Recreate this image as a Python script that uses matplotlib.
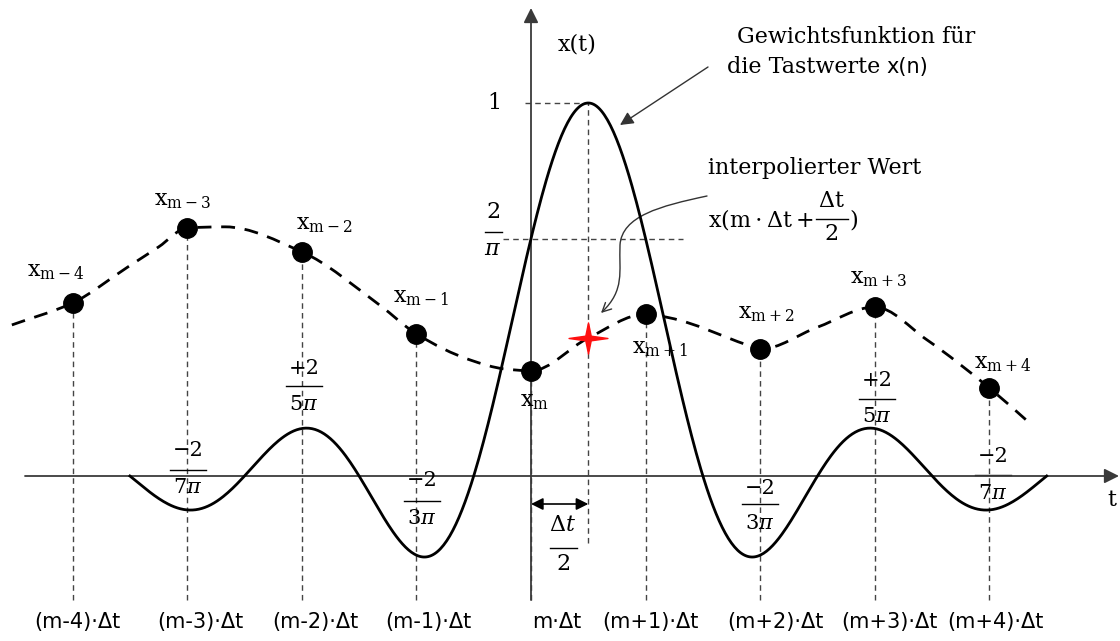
import numpy as np
import matplotlib
matplotlib.use('Agg')
import matplotlib.pyplot as plt
from matplotlib.path import Path
from matplotlib.patches import PathPatch, FancyArrowPatch

# ---------------- data ----------------
sample_n = [-4, -3, -2, -1, 0, 1, 2, 3, 4]
sample_names = ['m-4', 'm-3', 'm-2', 'm-1', 'm', 'm+1', 'm+2', 'm+3', 'm+4']
sample_values = [0.464, 0.665, 0.601, 0.381, 0.282, 0.434, 0.340, 0.453, 0.236]
tick_labels = ['(m-4)·Δt', '(m-3)·Δt', '(m-2)·Δt', '(m-1)·Δt', 'm·Δt',
               '(m+1)·Δt', '(m+2)·Δt', '(m+3)·Δt', '(m+4)·Δt']

# dashed interpolated signal (knots, incl. samples)
interp_t = [-4.53, -4.0, -3.52, -3.25, -3.0, -2.67, -2.0, -1.32, -1.0, -0.53, -0.23,
            0.0, 0.5, 1.0, 1.21, 1.89, 2.0, 2.5, 3.0, 3.455, 4.0, 4.34]
interp_v = [0.405, 0.464, 0.560, 0.614, 0.665, 0.668, 0.601, 0.458, 0.381, 0.311, 0.287,
            0.282, 0.370, 0.434, 0.424, 0.351, 0.340, 0.399, 0.453, 0.365, 0.236, 0.145]

# weighting function (sinc) centred between m and m+1
weight_center = 0.5
weight_start, weight_end = -3.5, 4.5
weight_label_n = [-3, -2, -1, 2, 3, 4]
weight_label_num = ['−2', '+2', '−2', '−2', '+2', '−2']
weight_label_den = ['7π', '5π', '3π', '3π', '5π', '7π']

interp_point_t = 0.5
interp_point_v = 0.370

# ---------------- layout helpers (pixel -> data) ----------------
PX0, DX, PY0, DY = 531.0, 114.6, 476.0, 373.0
def X(px):
    return (px - PX0) / DX
def Y(py):
    return (PY0 - py) / DY

plt.rcParams['mathtext.fontset'] = 'dejavuserif'
SERIF = 'DejaVu Serif'
SANS = 'DejaVu Sans'

fig = plt.figure(figsize=(11.2, 6.41), dpi=100)
ax = fig.add_axes([0, 0, 1, 1])
ax.set_xlim(X(0), X(1120))
ax.set_ylim(Y(641), Y(0))
ax.axis('off')
renderer = fig.canvas.get_renderer()

def right_edge(txt):
    bb = txt.get_window_extent(renderer)
    return ax.transData.inverted().transform((bb.x1, bb.y0))[0]

AXC = '#3a3a3a'
# horizontal axis
ax.annotate('', xy=(X(1119), 0), xytext=(X(25), 0),
            arrowprops=dict(arrowstyle='-|>', color=AXC, lw=1.3,
                            mutation_scale=22, shrinkA=0, shrinkB=0))
# vertical axis
ax.annotate('', xy=(0, Y(8)), xytext=(0, Y(600)),
            arrowprops=dict(arrowstyle='-|>', color=AXC, lw=1.3,
                            mutation_scale=22, shrinkA=0, shrinkB=0))
ax.text(X(1112), Y(500), 't', fontsize=16, family=SERIF, ha='center', va='center')
ax.text(X(577), Y(45), 'x(t)', fontsize=16, family=SERIF, ha='center', va='center')

# vertical dashed lines at samples
ax.vlines(sample_n, Y(600), sample_values, colors='#444444', lw=1.0,
          linestyles=(0, (4, 3)), zorder=1)
# vertical dashed at m+1/2
ax.vlines([weight_center], Y(543), 1.0, colors='#444444', lw=1.0,
          linestyles=(0, (4, 3)), zorder=1)
# horizontal dashed helper lines
ax.hlines([1.0], X(525), weight_center, colors='#444444', lw=1.0, linestyles=(0, (4, 3)))
ax.hlines([2 / np.pi], X(503), X(683), colors='#444444', lw=1.0, linestyles=(0, (4, 3)))
ax.text(X(494), 1.0, '1', fontsize=16, family=SERIF, ha='center', va='center')
ax.text(X(493), Y(212), '2', fontsize=16, family=SERIF, ha='center', va='center')
ax.plot([X(485), X(502)], [Y(232), Y(232)], color='black', lw=1.0)
ax.text(X(493), Y(249), r'$\pi$', fontsize=16, ha='center', va='center')

# weighting function
tt = np.linspace(weight_start, weight_end, 600)
ax.plot(tt, np.sinc(tt - weight_center), color='black', lw=2.0, zorder=3)

# dashed interpolated signal: monotone cubic Hermite knots -> Bezier path
T = np.asarray(interp_t, float)
V = np.asarray(interp_v, float)
h = np.diff(T)
d = np.diff(V) / h
m = np.zeros_like(V)
m[0], m[-1] = d[0], d[-1]
for k in range(1, len(V) - 1):
    if d[k - 1] * d[k] > 0:
        w1 = 2 * h[k] + h[k - 1]
        w2 = h[k] + 2 * h[k - 1]
        m[k] = (w1 + w2) / (w1 / d[k - 1] + w2 / d[k])
verts = [(T[0], V[0])]
codes = [Path.MOVETO]
for k in range(len(T) - 1):
    verts += [(T[k] + h[k] / 3, V[k] + m[k] * h[k] / 3),
              (T[k + 1] - h[k] / 3, V[k + 1] - m[k + 1] * h[k] / 3),
              (T[k + 1], V[k + 1])]
    codes += [Path.CURVE4] * 3
ax.add_patch(PathPatch(Path(verts, codes), fill=False, color='black', lw=2.0,
                       linestyle=(0, (5, 3.5)), zorder=3))

# sample dots
ax.plot(sample_n, sample_values, 'o', ms=14, color='black', zorder=5)

# sample labels
name_pos = [(56, 272), (183, 201), (324, 225), (421, 298), (535, 402),
            (660, 349), (766, 314), (879, 279), (1003, 364)]
for name, (px, py) in zip(sample_names, name_pos):
    ax.text(X(px), Y(py), r'$\mathrm{x}_{\mathrm{' + name + '}}$', fontsize=16,
            ha='center', va='center', zorder=6)

# weight-value fractions
frac_pos = [(188, 451, 470, 487), (304, 368, 386, 404), (422, 481, 501, 518),
            (760, 488, 504, 523), (877, 381, 399, 416), (993, 457, 475, 493)]
for num, den, (px, pn, pb, pd) in zip(weight_label_num, weight_label_den, frac_pos):
    ax.text(X(px), Y(pn), num, fontsize=15, family=SERIF, ha='center', va='center')
    ax.plot([X(px - 18), X(px + 18)], [Y(pb), Y(pb)], color='black', lw=1.0)
    ax.text(X(px), Y(pd), '$' + den.replace('π', r'\pi') + '$', fontsize=15,
            ha='center', va='center')

# interpolated point (red star)
star = Path([(1, 0), (0.14, 0.12), (0, 0.8), (-0.14, 0.12), (-1, 0),
             (-0.14, -0.12), (0, -0.8), (0.14, -0.12), (1, 0)],
            [Path.MOVETO] + [Path.LINETO] * 7 + [Path.CLOSEPOLY])
ax.plot([interp_point_t], [interp_point_v], marker=star, ms=28, color='#ff1010',
        mec='#ff1010', zorder=7)

# delta t / 2 arrow
ax.annotate('', xy=(weight_center, Y(504)), xytext=(0, Y(504)),
            arrowprops=dict(arrowstyle='<|-|>', color='black', lw=1.2,
                            mutation_scale=18, shrinkA=0, shrinkB=0))
ax.text(X(563), Y(525), r'$\Delta t$', fontsize=16, ha='center', va='center')
ax.plot([X(550), X(577)], [Y(548), Y(548)], color='black', lw=1.0)
ax.text(X(563), Y(564), '2', fontsize=16, family=SERIF, ha='center', va='center')

# bottom tick labels
tick_px = [77, 200, 315, 428, 557, 650, 775, 889, 995]
for lab, px in zip(tick_labels, tick_px):
    ax.text(X(px), Y(622), lab, fontsize=15, family=SANS, ha='center', va='center')

# annotation: weighting function
ax.text(X(737), Y(37), 'Gewichtsfunktion für', fontsize=16, family=SERIF,
        ha='left', va='center')
t1 = ax.text(X(727), Y(67), 'die Tastwerte', fontsize=16, family=SERIF,
             ha='left', va='center')
ax.text(right_edge(t1) + X(537) - X(531), Y(67), 'x(n)', fontsize=15, family=SANS,
        ha='left', va='center')
ax.annotate('', xy=(X(620), Y(125)), xytext=(X(708), Y(67)),
            arrowprops=dict(arrowstyle='-|>', color='#333333', lw=1.0,
                            mutation_scale=20, shrinkA=0, shrinkB=0))

# annotation: interpolated value
ax.text(X(708), Y(168), 'interpolierter Wert', fontsize=16, family=SERIF,
        ha='left', va='center')
t2 = ax.text(X(708), Y(220), r'$\mathrm{x(m\cdot\Delta t+}$', fontsize=16,
             ha='left', va='center')
fx = right_edge(t2) + X(549) - X(531)
ax.text(fx, Y(201), r'$\Delta\mathrm{t}$', fontsize=16, ha='center', va='center')
ax.plot([fx - X(547) + X(531), fx + X(547) - X(531)], [Y(219), Y(219)],
        color='black', lw=1.0)
ax.text(fx, Y(234), '2', fontsize=16, family=SERIF, ha='center', va='center')
ax.text(fx + X(549) - X(531), Y(220), ')', fontsize=16, family=SERIF,
        ha='left', va='center')

cv = [(X(707), Y(196)), (X(660), Y(206)), (X(622), Y(216)), (X(620), Y(245)),
      (X(619), Y(272)), (X(625), Y(290)), (X(601), Y(313))]
cc = [Path.MOVETO, Path.CURVE4, Path.CURVE4, Path.CURVE4,
      Path.CURVE4, Path.CURVE4, Path.CURVE4]
ax.add_patch(FancyArrowPatch(path=Path(cv, cc), arrowstyle='->', color='#333333',
                             lw=1.0, mutation_scale=16))

fig.savefig('out.png', dpi=100)
